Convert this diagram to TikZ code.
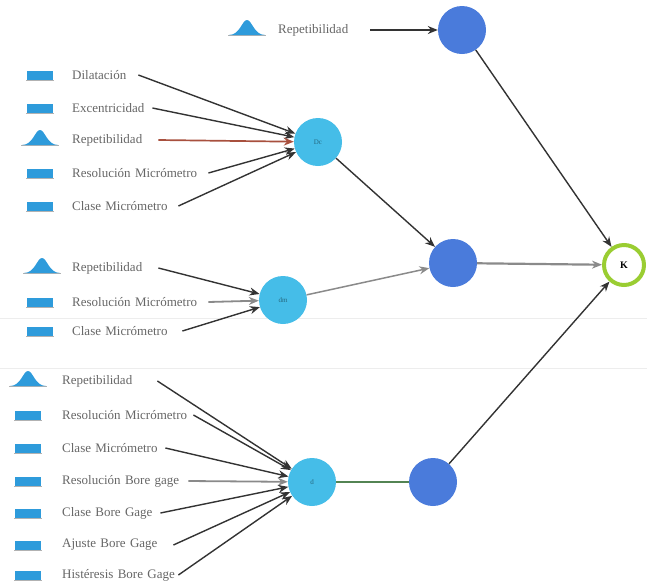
\documentclass[tikz,border=0pt]{standalone}
\usepackage{fontspec}
\setmainfont{Liberation Serif}
\usetikzlibrary{arrows.meta}
\definecolor{lightnode}{HTML}{45BDE8}
\definecolor{darknode}{HTML}{4A7BDB}
\definecolor{ringgreen}{HTML}{9ACD32}
\definecolor{iconblue}{HTML}{2E9BDB}
\definecolor{labelgrey}{HTML}{666666}
\definecolor{linkdark}{HTML}{333333}
\definecolor{linkred}{HTML}{A8503E}
\definecolor{linkgrey}{HTML}{8A8A8A}
\definecolor{sepgrey}{HTML}{EDEDED}
\begin{document}
\begin{tikzpicture}[x=1pt,y=-1pt,
  lbl/.style={anchor=west,inner sep=0pt,align=left,font=\fontsize{13}{15}\selectfont,text=labelgrey},
  lnode/.style={circle,fill=lightnode,minimum size=48pt,inner sep=0pt,font=\fontsize{7}{8}\selectfont,text=lightnode!55!black},
  dnode/.style={circle,fill=darknode,minimum size=48pt,inner sep=0pt},
  knode/.style={circle,draw=ringgreen,line width=4pt,fill=white,minimum size=40pt,inner sep=0pt,font=\bfseries\fontsize{10}{12}\selectfont},
  link/.style={draw=linkdark,line width=1.4pt,-{Stealth[length=10pt,width=8pt]}},
  redlink/.style={link,draw=linkred,line width=1.7pt},
  greylink/.style={link,draw=linkgrey,line width=1.8pt},
  pics/unif/.style={code={
    \draw[black!30,line width=0.6pt] (-14,5) -- (14,5);
    \fill[iconblue] (-13,-4.5) rectangle (13,4.5);}},
  pics/norm/.style={code={
    \draw[black!30,line width=0.6pt] (-19,5) -- (19,5);
    \fill[iconblue] (-18,5) .. controls (-7,5) and (-5,-10) .. (0,-10) .. controls (5,-10) and (7,5) .. (18,5) -- cycle;}}
]
\useasboundingbox (0,0) rectangle (647,587);
% separators
\draw[sepgrey,line width=1pt] (0,318) -- (647,318);
\draw[sepgrey,line width=1pt] (0,368) -- (647,368);

% main nodes
\node[dnode] (top) at (462,30) {};
\node[lnode] (dc) at (318,142) {Dc};
\node[dnode] (mid) at (453,263) {};
\node[lnode] (dm) at (283,300) {dm};
\node[knode] (k) at (624,265) {K};
\node[lnode] (db) at (312,482) {d};
\node[dnode] (bot) at (433,482) {};

% top input
\pic at (247,30) {norm};
\node[lbl,text width=92pt] (t1) at (278,30) {Repetibilidad};

% group 1
\pic at (40,75) {unif};
\node[lbl,text width=66pt] (a1) at (72,75) {Dilatación};
\pic at (40,108) {unif};
\node[lbl,text width=80pt] (a2) at (72,108) {Excentricidad};
\pic at (40,140) {norm};
\node[lbl,text width=86pt] (a3) at (72,140) {Repetibilidad};
\pic at (40,173) {unif};
\node[lbl,text width=136pt] (a4) at (72,173) {Resolución Micrómetro};
\pic at (40,206) {unif};
\node[lbl,text width=106pt] (a5) at (72,206) {Clase Micrómetro};

% group 2
\pic at (42,268) {norm};
\node[lbl,text width=86pt] (b1) at (72,268) {Repetibilidad};
\pic at (40,302) {unif};
\node[lbl,text width=136pt] (b2) at (72,302) {Resolución Micrómetro};
\pic at (40,331) {unif};
\node[lbl,text width=110pt] (b3) at (72,331) {Clase Micrómetro};

% group 3
\pic at (28,381) {norm};
\node[lbl,text width=95pt] (c1) at (62,381) {Repetibilidad};
\pic at (28,415) {unif};
\node[lbl,text width=131pt] (c2) at (62,415) {Resolución Micrómetro};
\pic at (28,448) {unif};
\node[lbl,text width=103pt] (c3) at (62,448) {Clase Micrómetro};
\pic at (28,481) {unif};
\node[lbl,text width=126pt] (c4) at (62,481) {Resolución Bore gage};
\pic at (28,513) {unif};
\node[lbl,text width=98pt] (c5) at (62,513) {Clase Bore Gage};
\pic at (28,545) {unif};
\node[lbl,text width=111pt] (c6) at (62,545) {Ajuste Bore Gage};
\pic at (28,575) {unif};
\node[lbl,text width=116pt] (c7) at (62,575) {Histéresis Bore Gage};

% connectors
\draw[link] (t1.east) -- (top);
\draw[link] (a1.east) -- (dc);
\draw[link] (a2.east) -- (dc);
\draw[redlink] (a3.east) -- (dc);
\draw[link] (a4.east) -- (dc);
\draw[link] (a5.east) -- (dc);
\draw[link] (b1.east) -- (dm);
\draw[greylink] (b2.east) -- (dm);
\draw[link] (b3.east) -- (dm);
\draw[link] (c1.east) -- (db);
\draw[link] (c2.east) -- (db);
\draw[link] (c3.east) -- (db);
\draw[greylink] (c4.east) -- (db);
\draw[link] (c5.east) -- (db);
\draw[link] (c6.east) -- (db);
\draw[link] (c7.east) -- (db);
\draw[link] (dc) -- (mid);
\draw[greylink,line width=1.5pt] (dm) -- (mid);
\draw[black!45!green!35!gray,line width=1.6pt] (db) -- (bot);
\draw[link] (top) -- (k);
\draw[greylink,line width=2.2pt] (mid) -- (k);
\draw[link] (bot) -- (k);
\end{tikzpicture}
\end{document}
